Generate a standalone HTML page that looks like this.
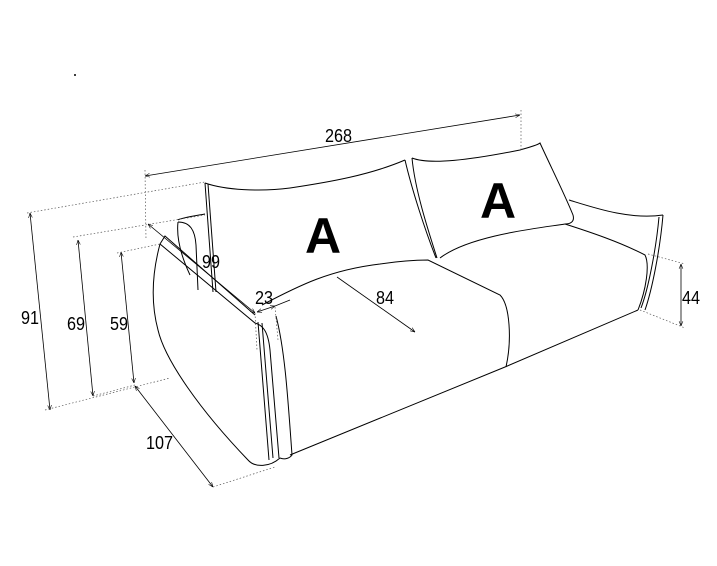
<!DOCTYPE html>
<html><head><meta charset="utf-8"><style>
html,body{margin:0;padding:0;background:#fff;}
svg{display:block;}
text{font-family:"Liberation Sans",sans-serif;fill:#000;}
</style></head><body>
<svg width="717" height="566" viewBox="0 0 717 566" xmlns="http://www.w3.org/2000/svg">
<defs>
<marker id="a" viewBox="0 0 10 10" refX="10" refY="5" markerWidth="6" markerHeight="6" orient="auto-start-reverse"><path d="M0,1 L10,5 L0,9" fill="none" stroke="#000" stroke-width="1.2"/></marker>
</defs>
<g fill="none" stroke="#000" stroke-width="1">
<path d="M205,183 C225,190 260,192 290,188 C330,182 370,175 405,160"/>
<path d="M205,183 L213,292"/>
<path d="M208,184 L216,292"/>
<path d="M405,160 C412,190 425,230 436,258"/>
<path d="M412,158 C430,165 470,160 520,150 C530,147 538,145 540,143 C550,165 565,195 573,215 C575,222 570,224 565,224"/>
<path d="M412,158 C415,190 428,230 437,258"/>
<path d="M440,258 C470,235 540,228 565,224"/>
<path d="M569,200 C595,208 630,220 663,215"/>
<path d="M663,215 C660,250 652,290 645,310"/>
<path d="M659,217 C656,250 648,290 641,308"/>
<path d="M565,224 C590,232 620,242 645,255 C650,265 646,290 638,310"/>
<path d="M638,310 L505,367 L290,455"/>
<path d="M262,305 C300,285 330,270 380,264 C400,261 415,260 428,260 L500,295 C510,305 512,340 506,367"/>
<path d="M160,244 C153,270 150,300 158,330 C165,360 200,410 248,460 C255,468 270,467 280,458"/>
<path d="M160,244 L255,323 C262,325 268,330 270,350 L279,458"/>
<path d="M262,323 L273,458"/>
<path d="M258,322 L269,460"/>
<path d="M160,244 L165,236 L255,315"/>
<path d="M178,220 C180,218 200,215 205,214"/>
<path d="M178,222 C176,240 182,258 190,275"/>
<path d="M178,222 C190,222 195,230 196,245 L198,290"/>
<path d="M280,458 C285,460 290,458 292,455 C288,400 285,350 276,316"/>
</g>
<g fill="none" stroke="#000" stroke-width="0.8" marker-start="url(#a)" marker-end="url(#a)">
<line x1="145" y1="176" x2="520" y2="115"/>
<line x1="30" y1="213" x2="50" y2="410"/>
<line x1="78" y1="240" x2="93" y2="396"/>
<line x1="121" y1="252" x2="134" y2="383"/>
<line x1="135" y1="386" x2="213" y2="487"/>
<line x1="148" y1="224" x2="255" y2="313"/>
<line x1="257" y1="312" x2="275" y2="306"/>
<line x1="681" y1="264" x2="681" y2="326"/>
</g>
<line x1="337" y1="277" x2="415" y2="332" stroke="#000" stroke-width="0.8" marker-end="url(#a)"/>
<line x1="275" y1="306" x2="290" y2="300" stroke="#000" stroke-width="0.8"/>
<g fill="none" stroke="#555" stroke-width="0.7" stroke-dasharray="1.5,2">
<line x1="145" y1="170" x2="146" y2="240"/>
<line x1="521" y1="110" x2="521" y2="150"/>
<line x1="27" y1="213" x2="205" y2="182"/>
<line x1="45" y1="410" x2="170" y2="378"/>
<line x1="73" y1="237" x2="205" y2="215"/>
<line x1="93" y1="396" x2="135" y2="385"/>
<line x1="117" y1="253" x2="160" y2="244"/>
<line x1="213" y1="487" x2="275" y2="467"/>
<line x1="648" y1="254" x2="685" y2="264"/>
<line x1="640" y1="310" x2="685" y2="328"/>
<line x1="255" y1="313" x2="257" y2="350"/>
<line x1="275" y1="307" x2="278" y2="340"/>
</g>
<circle cx="75" cy="75" r="1" fill="#000"/>
<g font-size="18">
<text x="325" y="142" textLength="27" lengthAdjust="spacingAndGlyphs">268</text>
<text x="21" y="324" textLength="18" lengthAdjust="spacingAndGlyphs">91</text>
<text x="67" y="330" textLength="18" lengthAdjust="spacingAndGlyphs">69</text>
<text x="110" y="330" textLength="18" lengthAdjust="spacingAndGlyphs">59</text>
<text x="146" y="449" textLength="27" lengthAdjust="spacingAndGlyphs">107</text>
<text x="202" y="268" textLength="18" lengthAdjust="spacingAndGlyphs">99</text>
<text x="255" y="304" textLength="18" lengthAdjust="spacingAndGlyphs">23</text>
<text x="376" y="304" textLength="18" lengthAdjust="spacingAndGlyphs">84</text>
<text x="682" y="304" textLength="18" lengthAdjust="spacingAndGlyphs">44</text>
</g>
<g font-size="50" font-weight="bold">
<text x="305" y="253">A</text>
<text x="480" y="218">A</text>
</g>
</svg>
</body></html>
